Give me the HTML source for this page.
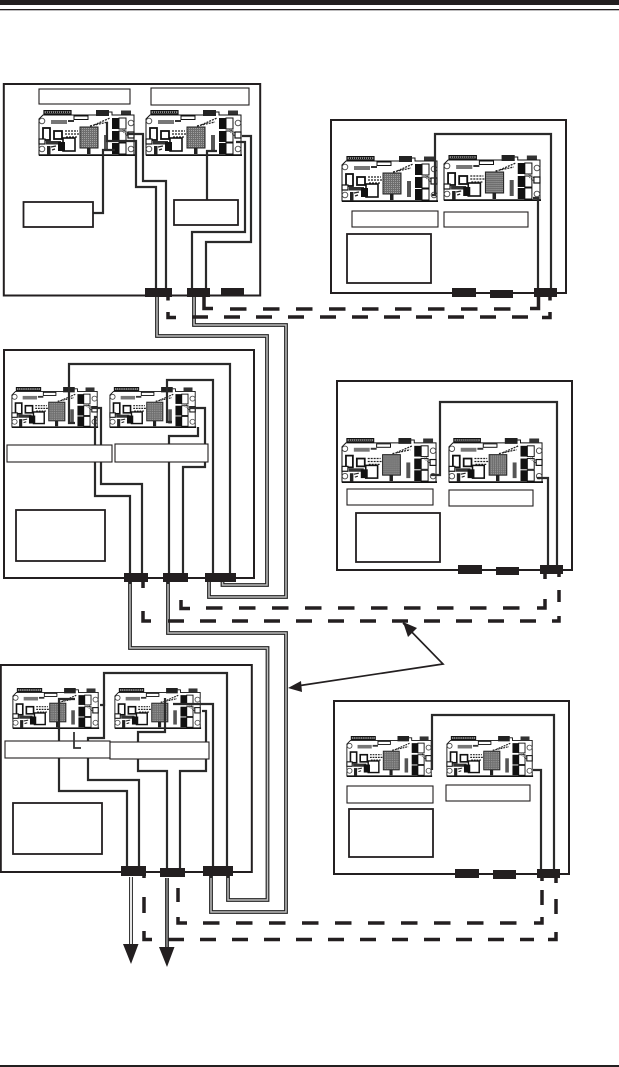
<!DOCTYPE html>
<html><head><meta charset="utf-8"><style>html,body{margin:0;padding:0;background:#fff;width:619px;height:1067px;overflow:hidden}svg{display:block}</style></head>
<body>
<svg width="619" height="1067" viewBox="0 0 619 1067" xmlns="http://www.w3.org/2000/svg">
<defs>
<pattern id="g" width="2" height="2" patternUnits="userSpaceOnUse"><rect width="2" height="2" fill="#6e6e6e"/><rect width="1" height="1" fill="#a0a0a0"/></pattern>
<symbol id="bd" viewBox="0 0 98 46" preserveAspectRatio="none">
<path d="M1 45V9L5 5H62V2H74V5H96V45Z" fill="#fff" stroke="#111" stroke-width="1"/>
<path d="M1 45.2H97" stroke="#111" stroke-width="2"/>
<rect x="6" y=".5" width="27" height="3.500" fill="#888" stroke="#111" stroke-width="1.2"/><path d="M8 2.200H32" stroke="#111" stroke-width="1.6" stroke-dasharray="1 1"/>
<rect x="58" y="0" width="13" height="6" fill="#222"/><rect x="83" y="0.500" width="10" height="4" fill="#333"/><rect x="36" y="6" width="14" height="3.500" fill="#fff" stroke="#111" stroke-width="1"/>
<rect x="42" y="17" width="18" height="21" fill="url(#g)" stroke="#222" stroke-width="1"/>
<rect x="5" y="18" width="7" height="12" fill="#fff" stroke="#111" stroke-width="1.8"/>
<rect x="16" y="21" width="8" height="8" fill="#fff" stroke="#111" stroke-width="1.8"/>
<rect x="13" y="10" width="16" height="4" fill="#777"/><rect x="30" y="10" width="6" height="2" fill="#333"/>
<path d="M27 21H40M27 24H41M28 27H39M56 15L72 8M52 16L70 12" stroke="#222" stroke-width="1.3" stroke-dasharray="2 1"/>
<rect x="1" y="29" width="6" height="5" fill="#fff" stroke="#111" stroke-width="1.2"/>
<rect x="8" y="31" width="15" height="3.500" fill="#333"/><rect x="25" y="28" width="12" height="13" fill="#fff" stroke="#111" stroke-width="1.6"/>
<rect x="20" y="32" width="7" height="9" fill="#111"/><rect x="9" y="36" width="3.500" height="9" fill="#222"/><rect x="49" y="38" width="3.500" height="6" fill="#222"/>
<path d="M13 37L18 36M14 40L17 39" stroke="#222" stroke-width="1.2"/>
<rect x="66" y="25" width="4" height="16" fill="#555"/>
<rect x="74" y="8" width="7" height="11" fill="#111"/><rect x="74" y="21" width="7" height="11" fill="#111"/><rect x="74" y="33" width="7" height="11" fill="#111"/>
<rect x="81" y="8" width="7" height="11" fill="#fff" stroke="#111" stroke-width="1"/><rect x="81" y="21" width="7" height="11" fill="#fff" stroke="#111" stroke-width="1"/><rect x="81" y="33" width="7" height="11" fill="#fff" stroke="#111" stroke-width="1"/>
<path d="M84 19L92 24M84 21L90 26" stroke="#333" stroke-width="1" stroke-dasharray="1 1"/>
<rect x="90" y="22" width="6" height="6" fill="#fff" stroke="#111" stroke-width="1.2"/>
<g fill="#fff" stroke="#444" stroke-width=".9"><circle cx="4" cy="11" r="2.800"/><circle cx="4" cy="39" r="2.800"/><circle cx="93" cy="13" r="2.800"/><circle cx="93" cy="39" r="2.800"/></g>
</symbol>
</defs>
<rect width="619" height="1067" fill="#fff"/>
<rect width="619" height="5" fill="#231f20"/><rect y="9" width="619" height="1.3" fill="#231f20"/><rect y="1065" width="619" height="2" fill="#231f20"/>

<!-- boxes -->
<g fill="none" stroke="#231f20" stroke-width="2">
<rect x="3.800" y="84" width="256.400" height="211.500"/>
<rect x="331" y="120" width="235" height="173"/>
<rect x="4" y="350" width="250" height="228"/>
<rect x="337" y="381" width="235" height="189"/>
<rect x="0.800" y="665" width="251" height="207"/>
<rect x="334" y="701" width="235" height="173"/>
</g>

<!-- boards -->
<use href="#bd" x="38" y="110" width="98" height="46"/>
<use href="#bd" x="145" y="110" width="98" height="46"/>
<use href="#bd" x="341" y="156" width="98" height="46"/>
<use href="#bd" x="443" y="155" width="99" height="46"/>
<use href="#bd" x="11" y="387" width="88" height="41"/>
<use href="#bd" x="109" y="387" width="88" height="41"/>
<use href="#bd" x="341" y="438" width="97" height="45"/>
<use href="#bd" x="448" y="438" width="96" height="45"/>
<use href="#bd" x="12" y="688" width="88" height="41"/>
<use href="#bd" x="114" y="688" width="88" height="41"/>
<use href="#bd" x="346" y="736" width="87" height="41"/>
<use href="#bd" x="446" y="736" width="88" height="41"/>

<!-- cables (double) -->
<g fill="none" stroke-linejoin="miter">
<g stroke="#222" stroke-width="3.800">
<path d="M157 297V336H267V585H222.500V576"/>
<path d="M194 297V325H286V597H209V578"/>
<path d="M130 582V648H267.500V900H228V876"/>
<path d="M168 582V633H286V912H211V876"/>
</g>
<g stroke="#c0c0c0" stroke-width="1.500">
<path d="M157 297V336H267V585H222.500V578"/>
<path d="M194 297V325H286V597H209V580"/>
<path d="M130 584V648H267.500V900H228V878"/>
<path d="M168 584V633H286V912H211V878"/>
</g>
<path d="M131 877V945M167 878V948" stroke="#222" stroke-width="3.800"/>
<path d="M131 877V945" stroke="#fff" stroke-width="1.800"/>
<path d="M167 878V948" stroke="#ccc" stroke-width="1"/>
</g>

<!-- wires -->
<g fill="none" stroke="#2a2a2a" stroke-width="2.200">
<path d="M93 213H103V150H115"/>
<path d="M127 134H143V181H166V288"/>
<path d="M107 122V141H136V187H156V288"/>
<path d="M207 200V151H217"/>
<path d="M236 142H245V232H192V288"/>
<path d="M242 136H251V242H206V288"/>
<path d="M432 195H435V134H551V288"/>
<path d="M533 198H538V288"/>
<path d="M75 423H69V364H230V573"/>
<path d="M172 422H167V380H213V573"/>
<path d="M92 408H101V484H142V573"/>
<path d="M97 417H95V496H130V573"/>
<path d="M198 427V436H169V573"/>
<path d="M190 408H205V467H183V573"/>
<path d="M431 475H440V402H557V565"/>
<path d="M537 478H548V565"/>
<path d="M75 699H59V791H127V866"/>
<path d="M100 705H104V673H227V866"/>
<path d="M104 700V738H88V780H139V866"/>
<path d="M173 704H213V866"/>
<path d="M165 698V732H138V771H167V868"/>
<path d="M202 711H206V771H180V868"/>
<path d="M432 770V715H554V869"/>
<path d="M533 770H541V869"/>
</g>

<!-- labels -->
<g fill="#fff" stroke="#231f20" stroke-width="1.100">
<rect x="39" y="89" width="91" height="15"/><rect x="151" y="88" width="98" height="17"/>
<rect x="352" y="211" width="86" height="16"/><rect x="444" y="212" width="84" height="15"/>
<rect x="7" y="445" width="105" height="17"/><rect x="115" y="444" width="93" height="18"/>
<rect x="347" y="489" width="86" height="16"/><rect x="449" y="490" width="84" height="16"/>
<rect x="5" y="741" width="105" height="17"/><rect x="110" y="742" width="99" height="17"/>
<rect x="347" y="786" width="86" height="17"/><rect x="446" y="785" width="84" height="16"/>
</g>
<g fill="#fff" stroke="#231f20" stroke-width="1.800">
<rect x="23.500" y="202" width="69.500" height="25"/><rect x="174" y="200" width="64" height="25"/>
<rect x="347" y="234" width="84" height="49"/>
<rect x="16" y="510" width="89" height="51"/>
<rect x="356" y="513" width="84" height="49"/>
<rect x="13" y="803" width="89" height="51"/>
<rect x="349" y="809" width="84" height="48"/>
</g>
<path d="M74 732V748H81" fill="none" stroke="#333" stroke-width="1.800"/>

<!-- connector blocks -->
<g fill="#231f20">
<rect x="145" y="288" width="27" height="9"/><rect x="187" y="288" width="23" height="9"/><rect x="221" y="288" width="23" height="8"/>
<rect x="452" y="288" width="24" height="9"/><rect x="490" y="290" width="23" height="8"/><rect x="534" y="288" width="23" height="9"/>
<rect x="124" y="573" width="24" height="9"/><rect x="163" y="573" width="25" height="9"/><rect x="205" y="573" width="31" height="9"/>
<rect x="458" y="565" width="24" height="9"/><rect x="496" y="567" width="23" height="8"/><rect x="540" y="565" width="23" height="9"/>
<rect x="121" y="866" width="25" height="10"/><rect x="160" y="868" width="25" height="9"/><rect x="203" y="866" width="30" height="10"/>
<rect x="455" y="869" width="24" height="9"/><rect x="493" y="870" width="23" height="9"/><rect x="537" y="869" width="23" height="9"/>
</g>

<!-- dashed -->
<g fill="none" stroke="#231f20" stroke-width="3.500">
<path d="M204 297V308.500H213M168 297V300.500M168 312V317.500H176M538.500 297V308.500H530M550 297V300.500M550 312V317.500H542"/>
<path d="M230 309H527" stroke-dasharray="16.500 16.500"/>
<path d="M192 317H528" stroke-dasharray="16 16"/>
<path d="M181 600V608.500H190M143 582V588M143 611V621H151M545 574V579M545 599V608H537M559 574V577M559 590V602M559 616V621H552"/>
<path d="M206 608H521" stroke-dasharray="16.500 16.500"/>
<path d="M168 621H536" stroke-dasharray="16 16"/>
<path d="M178 888V902M178 917V923H187M144 875V878M144 897V913M144 931V939.500H152M542 878V881M542 890V905M542 917V923H534M556 878V883M556 899V914M556 932V939.500H548"/>
<path d="M203 923H518" stroke-dasharray="16.500 16.500"/>
<path d="M168 939.500H534" stroke-dasharray="16 16"/>
</g>

<!-- arrows -->
<path d="M403 623L443 664L297 686" fill="none" stroke="#231f20" stroke-width="1.700"/>
<path d="M403 622L417 628L408 637Z" fill="#231f20"/>
<path d="M288 688L301 681L302 692Z" fill="#231f20"/>
<path d="M123 944H138.500L131 964Z" fill="#231f20"/>
<path d="M159 947H174.500L167 967Z" fill="#231f20"/>
</svg>
</body></html>
